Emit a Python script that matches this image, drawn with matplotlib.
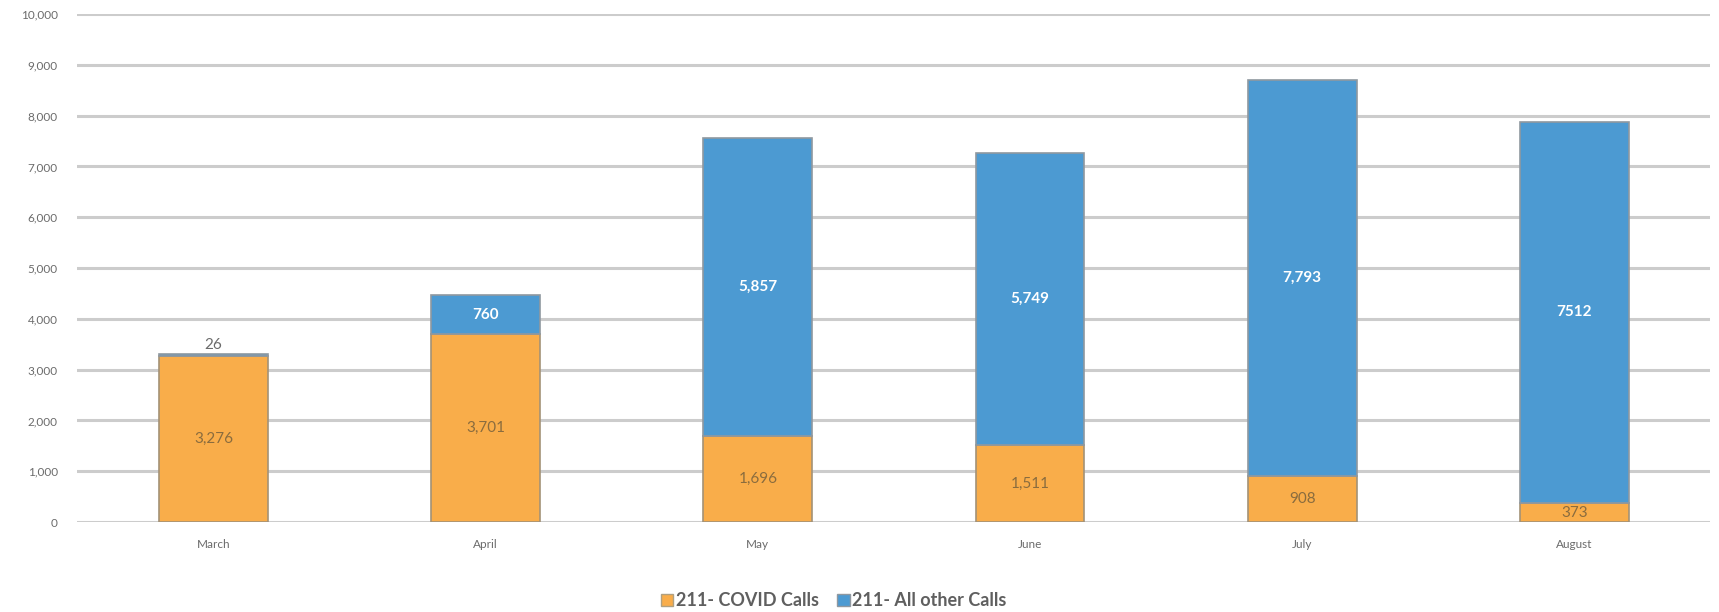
import numpy as np
import matplotlib
matplotlib.use("Agg")
from matplotlib import pyplot as plt
from matplotlib.patches import Patch

months = ["March", "April", "May", "June", "July", "August"]
covid = [3276, 3701, 1696, 1511, 908, 373]
other = [26, 760, 5857, 5749, 7793, 7512]
other_labels = ["26", "760", "5,857", "5,749", "7,793", "7512"]
covid_labels = ["3,276", "3,701", "1,696", "1,511", "908", "373"]

orange = "#F9AD4A"
blue = "#4C9AD2"
grey_txt = "#6b6b6b"

plt.rcParams["font.family"] = ["Lato", "DejaVu Sans"]

fig = plt.figure(figsize=(17.19, 6.12), dpi=100)
ax = fig.add_axes([0.045, 0.147, 0.95, 0.830])

x = np.arange(len(months))
w = 0.40
b1 = ax.bar(x, covid, w, color=orange, edgecolor="#a39277", linewidth=1.2, zorder=3)
b2 = ax.bar(x, other, w, bottom=covid, color=blue, edgecolor="#8f98a0", linewidth=1.2, zorder=3)

for i in range(len(months)):
    ax.text(x[i], covid[i] / 2, covid_labels[i], ha="center", va="center",
            fontsize=11, color="#8a6c3e", zorder=4)
    if other[i] < 200:
        ax.text(x[i], covid[i] + other[i] + 40, other_labels[i], ha="center", va="bottom",
                fontsize=11, color=grey_txt, zorder=4)
    else:
        ax.text(x[i], covid[i] + other[i] / 2, other_labels[i], ha="center", va="center",
                fontsize=11, color="white", fontweight="bold", zorder=4)

ax.set_xlim(-0.5, 5.5)
ax.set_ylim(0, 10000)
ax.set_yticks(np.arange(0, 10001, 1000))
ax.set_yticklabels([f"{v:,}" for v in range(0, 10001, 1000)])
ax.set_xticks(x)
ax.set_xticklabels(months)
ax.yaxis.grid(True, color="#cccccc", linewidth=2.2, zorder=0)
ax.set_axisbelow(True)
for s in ax.spines.values():
    s.set_visible(False)
ax.tick_params(axis="both", length=0, labelsize=8.5, colors=grey_txt)
ax.tick_params(axis="x", pad=12)
ax.tick_params(axis="y", pad=14)

handles = [Patch(facecolor=orange, edgecolor="#b0a080"), Patch(facecolor=blue, edgecolor="#8f98a0")]
fig.legend(handles, ["211- COVID Calls", "211- All other Calls"], loc="center",
           bbox_to_anchor=(0.485, 0.018), ncol=2, frameon=False, fontsize=13,
           labelcolor="#5f5f5f", handlelength=0.7, handleheight=0.7, handletextpad=0.15,
           columnspacing=1.0, prop={"weight": "bold", "size": 13})

fig.savefig("out.png", dpi=100)
